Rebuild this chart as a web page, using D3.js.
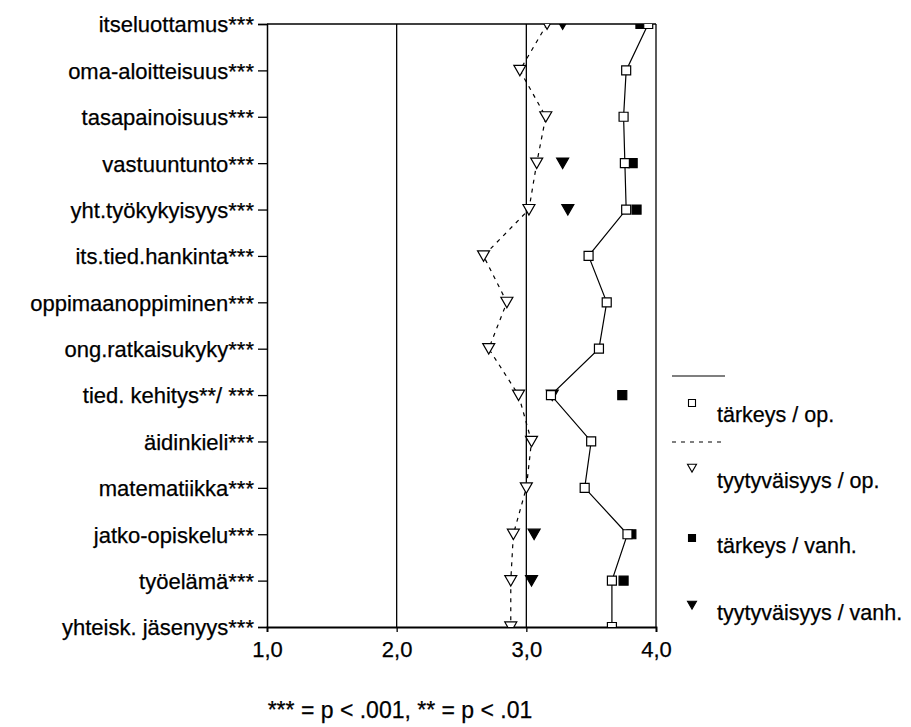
<!DOCTYPE html>
<html><head><meta charset="utf-8">
<script src="https://cdn.jsdelivr.net/npm/d3@7"></script>
<style>body{margin:0;background:#fff}svg{display:block}text{font-family:"Liberation Sans",Arial,sans-serif;fill:#000;stroke:#000;stroke-width:0.25px}</style>
</head><body><svg id="c" width="911" height="727"></svg>
<script>
const categories = ["itseluottamus***","oma-aloitteisuus***","tasapainoisuus***","vastuuntunto***","yht.työkykyisyys***","its.tied.hankinta***","oppimaanoppiminen***","ong.ratkaisukyky***","tied. kehitys**/ ***","äidinkieli***","matematiikka***","jatko-opiskelu***","työelämä***","yhteisk. jäsenyys***"];
const tarkeysOp = [3.94,3.77,3.75,3.76,3.77,3.48,3.62,3.56,3.19,3.50,3.45,3.78,3.66,3.66];
const tyytyOp = [3.16,2.95,3.15,3.08,3.02,2.67,2.85,2.71,2.94,3.04,3.00,2.90,2.88,2.88];
const tarkeysVanh = [3.88,null,null,3.82,3.85,null,null,null,3.74,null,null,3.81,3.75,null];
const tyytyVanh = [3.28,null,null,3.28,3.32,null,null,null,3.20,null,null,3.06,3.04,null];
const xTicks = [1,2,3,4];
const xTickLabels = ["1,0","2,0","3,0","4,0"];
const legendItems = [
  {label:"tärkeys / op.", line:"solid", marker:"sq", fill:false},
  {label:"tyytyväisyys / op.", line:"dash", marker:"tri", fill:false},
  {label:"tärkeys / vanh.", line:null, marker:"sq", fill:true},
  {label:"tyytyväisyys / vanh.", line:null, marker:"tri", fill:true}
];
const footnote = "*** = p < .001, ** = p < .01";

const svg = d3.select("#c");
const L=267,R=656,T=24,B=627;
const x = d3.scaleLinear().domain([1,4]).range([L,R]);
const y = d3.scalePoint().domain(categories).range([T,B]);

svg.append("defs").append("clipPath").attr("id","pc").append("rect")
  .attr("x",L).attr("y",T).attr("width",R-L).attr("height",B-T);

svg.append("g").selectAll("line").data([2,3]).join("line")
  .attr("x1",d=>x(d)).attr("x2",d=>x(d)).attr("y1",T).attr("y2",B)
  .attr("stroke","#000").attr("stroke-width",1.3);
svg.append("line").attr("x1",L).attr("x2",R).attr("y1",T).attr("y2",T).attr("stroke","#000").attr("stroke-width",1.5);
svg.append("line").attr("x1",R).attr("x2",R).attr("y1",T).attr("y2",B).attr("stroke","#000").attr("stroke-width",1.3);

const ya = svg.append("g").attr("transform",`translate(${L},0)`)
  .call(d3.axisLeft(y).tickSize(9).tickPadding(4));
ya.select(".domain").attr("stroke-width",1.5);
ya.selectAll(".tick line").attr("stroke-width",1.3);
ya.selectAll("text").style("font-size","22px").attr("dy","0.36em");

const xa = svg.append("g").attr("transform",`translate(0,${B})`)
  .call(d3.axisBottom(x).tickValues(xTicks).tickFormat((d,i)=>xTickLabels[i]).tickSize(5).tickPadding(9));
xa.select(".domain").attr("stroke-width",1.8);
xa.selectAll(".tick line").attr("stroke-width",1.3);
xa.selectAll("text").style("font-size","22px");

const plot = svg.append("g").attr("clip-path","url(#pc)");

const line = d3.line().x(d=>x(d[0])).y(d=>y(d[1]));
plot.append("path").datum(tarkeysOp.map((v,i)=>[v,categories[i]]))
  .attr("d",line).attr("fill","none").attr("stroke","#000").attr("stroke-width",1.2);
plot.append("path").datum(tyytyOp.map((v,i)=>[v,categories[i]]))
  .attr("d",line).attr("fill","none").attr("stroke","#000").attr("stroke-width",1.2).attr("stroke-dasharray","4,5");

const sqPath = s => `M${-s/2},${-s/2}h${s}v${s}h${-s}Z`;
const triPath = s => `M${-s/2},${-s*0.42}L${s/2},${-s*0.42}L0,${s*0.45}Z`;

function markers(vals, shape, fill, size){
  plot.append("g").selectAll("path").data(vals.map((v,i)=>[v,categories[i]]).filter(d=>d[0]!=null)).join("path")
    .attr("transform",d=>`translate(${x(d[0])},${y(d[1])})`)
    .attr("d",shape==="sq"?sqPath(size):triPath(size))
    .attr("fill",fill?"#000":"#fff").attr("stroke","#000").attr("stroke-width",1.2);
}
markers(tarkeysVanh,"sq",true,9);
markers(tyytyVanh,"tri",true,12);
markers(tarkeysOp,"sq",false,9);
markers(tyytyOp,"tri",false,12);

const lg = svg.append("g");
const ly = [376,442,508,574];
const my = [403,468,538,605];
const ty = [422,488,553,620];
legendItems.forEach((it,i)=>{
  if(it.line){
    lg.append("line").attr("x1",672).attr("x2",725).attr("y1",ly[i]).attr("y2",ly[i])
      .attr("stroke","#000").attr("stroke-width",1.2).attr("stroke-dasharray",it.line==="dash"?"4,5":null);
  }
  lg.append("path").attr("transform",`translate(692,${my[i]})`)
    .attr("d",it.marker==="sq"?sqPath(7):triPath(9))
    .attr("fill",it.fill?"#000":"#fff").attr("stroke","#000").attr("stroke-width",1.1);
  lg.append("text").attr("x",717).attr("y",ty[i]).style("font-size","21.5px").text(it.label);
});

svg.append("text").attr("x",400).attr("y",718).attr("text-anchor","middle").style("font-size","23px").text(footnote);
</script></body></html>
